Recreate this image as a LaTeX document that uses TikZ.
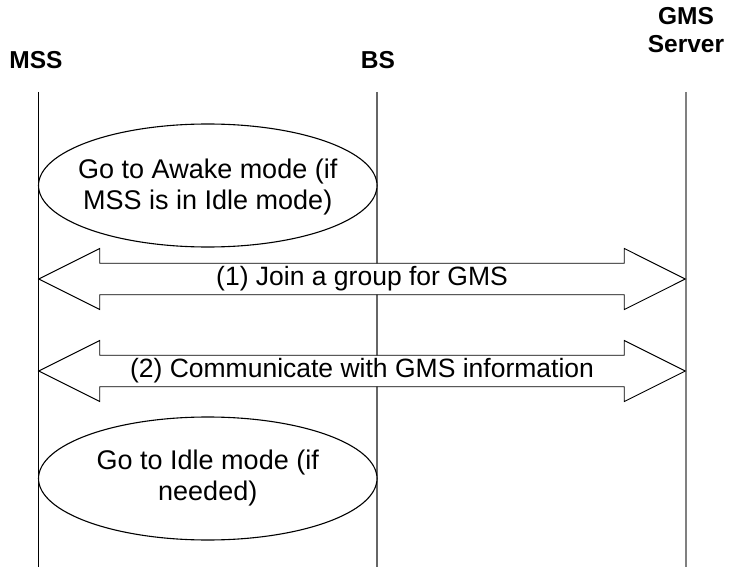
\documentclass[tikz,border=0pt]{standalone}
\usepackage{fontspec}
\setmainfont{Liberation Sans}
\usepackage{tikz}
\usetikzlibrary{shapes.arrows}

\begin{document}
\begin{tikzpicture}[x=1pt,y=-1pt,
        header/.style={font=\fontsize{24.5}{28}\selectfont\bfseries, align=center, inner sep=0pt},
        state/.style={draw, fill=white, line width=1.1pt},
        statetext/.style={align=center, inner sep=0pt, font=\fontsize{27}{31}\selectfont},
        message/.style={draw, double arrow, fill=white, line width=0.9pt, minimum height=646.5pt, minimum width=61pt, double arrow head extend=12pt, double arrow tip angle=53.13, inner sep=0pt, font=\fontsize{26.5}{30}\selectfont}]
        \def\xMSS{38.5}
        \def\xBS{377}
        \def\xGMS{685.5}
        \def\yTop{92}

        \useasboundingbox (0,0) rectangle (729,567);

        \node[header] (mss) at (36,60) {MSS};
        \node[header] (bs) at (378,60) {BS};
        \node[header] (gms) at (686,30) {GMS\\Server};

        \coordinate (mssTop) at (\xMSS,\yTop);
        \coordinate (mssBot) at (\xMSS,567);
        \coordinate (bsTop) at (\xBS,\yTop);
        \coordinate (bsBot) at (\xBS,567);
        \coordinate (gmsTop) at (\xGMS,\yTop);
        \coordinate (gmsBot) at (\xGMS,567);

        % lifelines
        \draw[line width=1pt] (mssTop) -- (mssBot);
        \draw[gray!80!black, line width=1.4pt] (bsTop) -- (bsBot);
        \draw[gray, line width=2pt] (gmsTop) -- (gmsBot);

        \draw[state] (207.75,185.5) ellipse [x radius=169.25, y radius=61.5];
        \node[statetext] (awake) at (207.75,187) {Go to Awake mode (if\\MSS is in Idle mode)};

        \node[message] (join) at ({(\xMSS+\xGMS)/2},279) {(1) Join a group for GMS};
        \node[message] (comm) at ({(\xMSS+\xGMS)/2},371) {(2) Communicate with GMS information};

        \draw[state] (207.75,478.5) ellipse [x radius=169.25, y radius=61.5];
        \node[statetext] (idle) at (207.75,478) {Go to Idle mode (if\\needed)};
\end{tikzpicture}
\end{document}
